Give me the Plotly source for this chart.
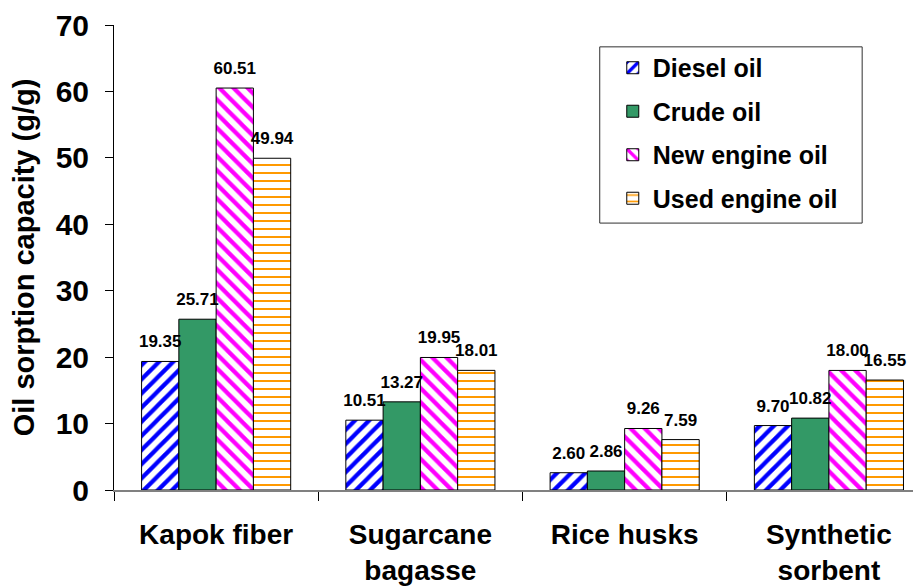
import plotly.graph_objects as go

categories = ["Kapok fiber", "Sugarcane<br>bagasse", "Rice husks", "Synthetic<br>sorbent"]
series_names = ["Diesel oil", "Crude oil", "New engine oil", "Used engine oil"]
diesel = [19.35, 10.51, 2.60, 9.70]
crude = [25.71, 13.27, 2.86, 10.82]
new_engine = [60.51, 19.95, 9.26, 18.00]
used_engine = [49.94, 18.01, 7.59, 16.55]
y_ticks = [0, 10, 20, 30, 40, 50, 60, 70]

series_values = [diesel, crude, new_engine, used_engine]
styles = [
    dict(color="white", pattern=dict(shape="/", fgcolor="#0000ff", bgcolor="white", size=10, solidity=0.42, fgopacity=1)),
    dict(color="#339966"),
    dict(color="white", pattern=dict(shape="\\", fgcolor="#ff00ff", bgcolor="white", size=10, solidity=0.42, fgopacity=1)),
    dict(color="white", pattern=dict(shape="-", fgcolor="#ff9900", bgcolor="white", size=8, solidity=0.25, fgopacity=1)),
]

FONT = "Liberation Sans, Arial, sans-serif"
fig = go.Figure()
for i, (name, vals, st) in enumerate(zip(series_names, series_values, styles)):
    marker = dict(st)
    marker["line"] = dict(color="black", width=1)
    fig.add_trace(go.Bar(
        x=categories, y=vals, name=name, marker=marker,
        offsetgroup=f"g{i}", legendgroup=f"g{i}",
    ))
for i, vals in enumerate(series_values):
    fig.add_trace(go.Scatter(
        x=categories, y=vals, mode="markers+text",
        marker=dict(size=14, color="rgba(0,0,0,0)"),
        text=[f"{v:.2f}" for v in vals], textposition="top center",
        textfont=dict(family=FONT, size=17, color="black", weight="bold"),
        offsetgroup=f"g{i}", showlegend=False, cliponaxis=False, hoverinfo="skip",
    ))

# legend frame (paper coordinates)
fig.add_shape(type="rect", xref="paper", yref="paper",
              x0=0.596, x1=0.918, y0=0.574, y1=0.953,
              line=dict(color="#303030", width=1), fillcolor="white", layer="below")

fig.update_layout(
    width=921, height=587,
    margin=dict(l=106, r=0, t=12, b=105),
    paper_bgcolor="white", plot_bgcolor="rgba(0,0,0,0)",
    barmode="group", bargap=0.27, bargroupgap=0,
    scattermode="group", scattergap=0.27,
    font=dict(family=FONT, color="black"),
    showlegend=True,
    legend=dict(
        x=0.612, y=0.957, xanchor="left", yanchor="top",
        borderwidth=0, bgcolor="rgba(0,0,0,0)",
        font=dict(family=FONT, size=25, color="black", weight="bold"),
        tracegroupgap=8,
    ),
)
fig.update_xaxes(
    range=[-0.5, 3.49], showline=True, linecolor="#808080", linewidth=2,
    ticks="outside", tickson="boundaries", ticklen=9, tickcolor="black",
    tickfont=dict(family=FONT, size=28, color="black", weight="bold"),
    ticklabelstandoff=18, showgrid=False, zeroline=False,
)
fig.update_yaxes(
    range=[0, 70], tickvals=y_ticks, showline=True, linecolor="black", linewidth=1,
    ticks="outside", ticklen=8, tickcolor="black", ticklabelstandoff=10,
    ticklabeloverflow="allow",
    tickfont=dict(family=FONT, size=30, color="black", weight="bold"),
    title=dict(text="Oil sorption capacity (g/g)", font=dict(family=FONT, size=29, color="black", weight="bold"), standoff=12),
    showgrid=False, zeroline=False,
)

fig.write_html("out.html")
